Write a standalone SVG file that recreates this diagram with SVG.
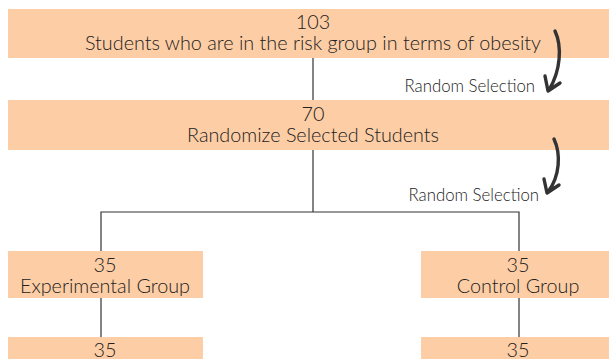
<svg xmlns="http://www.w3.org/2000/svg" width="609" height="359" viewBox="0 0 609 359">
<style>
.box{fill:#FDCDA5}
.t{font-family:Lato,"Open Sans","Liberation Sans",sans-serif;font-weight:300;font-size:19.8px;fill:#222;text-anchor:middle}
.s{font-family:Lato,"Open Sans","Liberation Sans",sans-serif;font-weight:300;font-size:16.8px;fill:#222;text-anchor:end}
.ln{stroke:#333;stroke-width:1.2;fill:none}
.arr{stroke:#333;stroke-width:3.4;fill:none;stroke-linecap:round;stroke-linejoin:round}
</style>
<rect width="609" height="359" fill="#fff"/>
<g id="connectors">
<path class="ln" d="M313 58V100"/>
<path class="ln" d="M313 150V212M101 251V212H519V251"/>
<path class="ln" d="M101 298V337M519 298V337"/>
</g>
<g id="n1"><rect class="box" x="8" y="9" width="601" height="49"/>
<text class="t" x="313" y="29">103</text>
<text class="t" x="313" y="50">Students who are in the risk group in terms of obesity</text></g>
<g id="n2"><rect class="box" x="8" y="100" width="601" height="50"/>
<text class="t" x="313" y="121">70</text>
<text class="t" x="313" y="142">Randomize Selected Students</text></g>
<g id="n3"><rect class="box" x="8" y="251" width="195" height="47"/>
<text class="t" x="105" y="272">35</text>
<text class="t" x="105" y="293">Experimental Group</text></g>
<g id="n4"><rect class="box" x="421" y="251" width="188" height="47"/>
<text class="t" x="518" y="272">35</text>
<text class="t" x="518" y="293">Control Group</text></g>
<g id="n5"><rect class="box" x="8" y="337" width="195" height="22"/>
<text class="t" x="105" y="357">35</text></g>
<g id="n6"><rect class="box" x="421" y="337" width="188" height="22"/>
<text class="t" x="518" y="357">35</text></g>
<g id="sel1">
<path class="arr" d="M555 31C562 46 561 70 549 90M545 76L548 91L560 83"/>
<text class="s" x="535" y="92">Random Selection</text></g>
<g id="sel2">
<path class="arr" d="M554 139C561 154 560 176 548 192M544 179L547 193L559 185"/>
<text class="s" x="539" y="201">Random Selection</text></g>
</svg>
